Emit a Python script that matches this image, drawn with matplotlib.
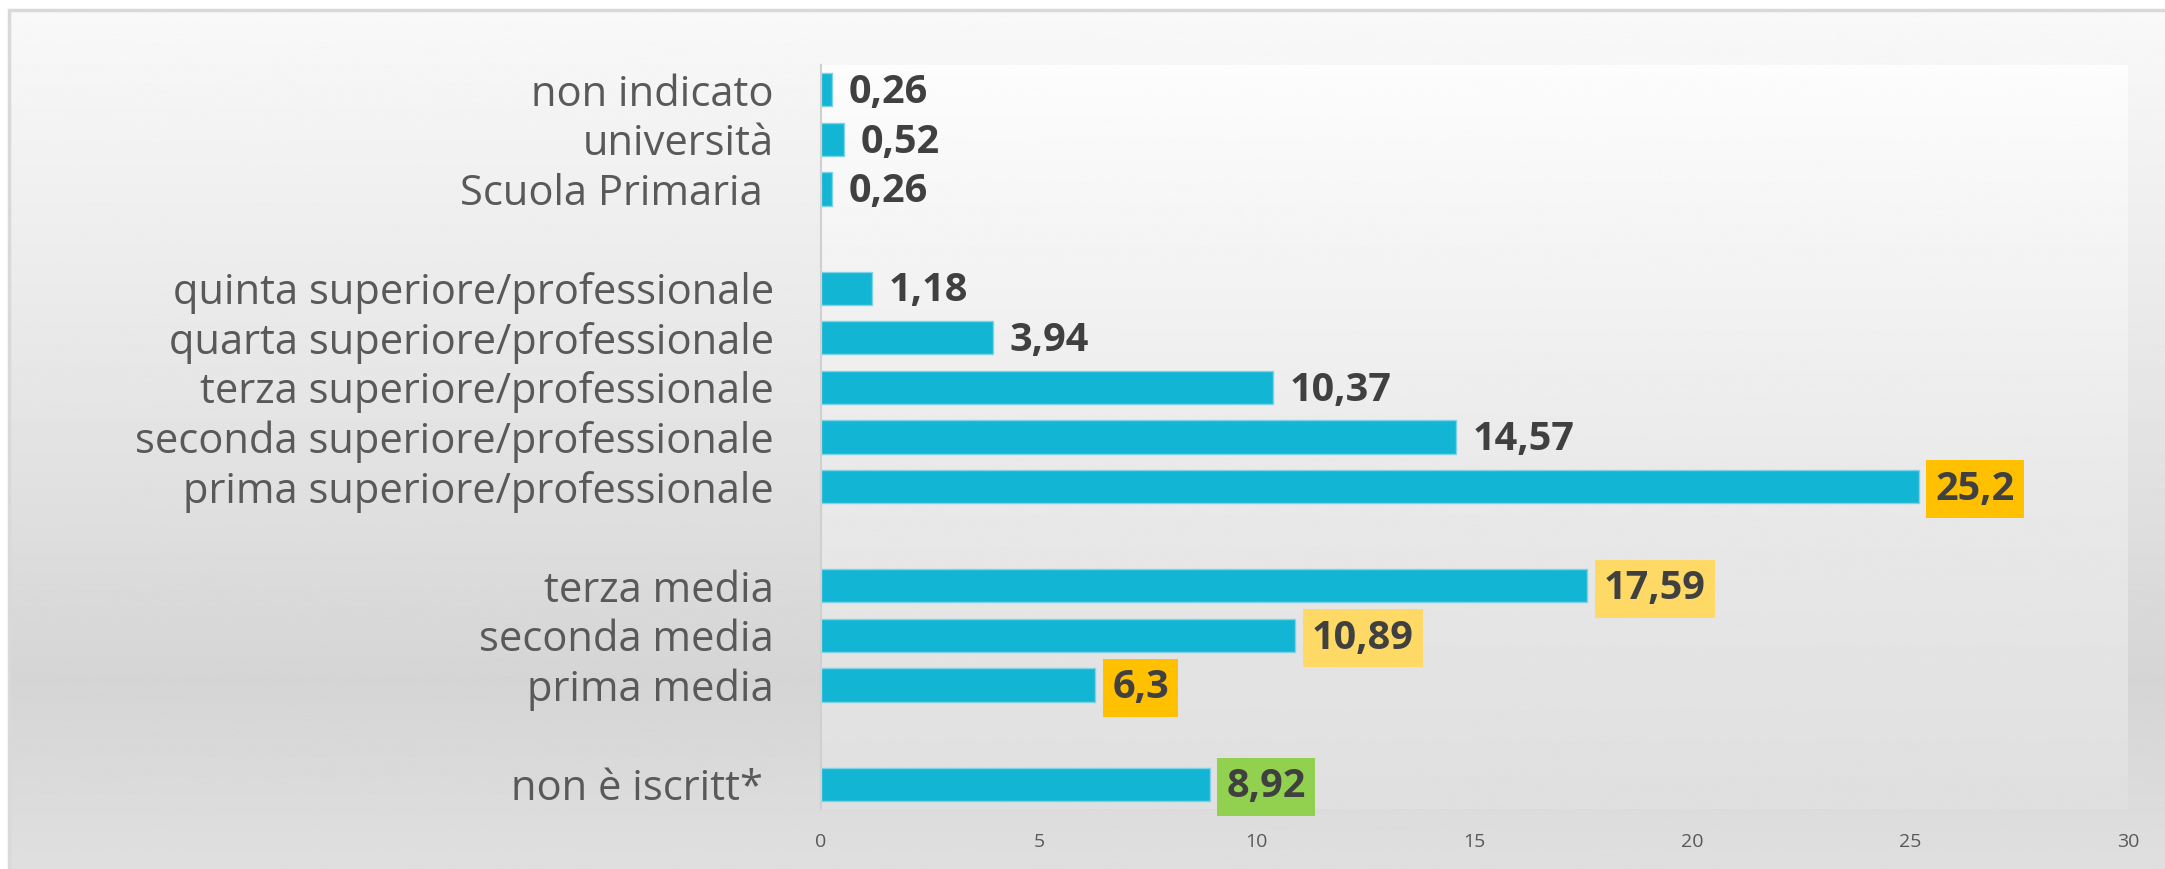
import numpy as np
import matplotlib
matplotlib.use("Agg")
import matplotlib.pyplot as plt
from matplotlib.patches import Rectangle

# slots from top to bottom, empty strings are the gaps between groups
categories = ["non indicato", "università", "Scuola Primaria ", "",
              "quinta superiore/professionale", "quarta superiore/professionale",
              "terza superiore/professionale", "seconda superiore/professionale",
              "prima superiore/professionale", "",
              "terza media", "seconda media", "prima media", "",
              "non è iscritt* "]
values = [0.26, 0.52, 0.26, np.nan,
          1.18, 3.94, 10.37, 14.57, 25.2, np.nan,
          17.59, 10.89, 6.3, np.nan,
          8.92]
highlight = {"prima superiore/professionale": "#FFC000",
             "terza media": "#FFD966",
             "seconda media": "#FFD966",
             "prima media": "#FFC000",
             "non è iscritt* ": "#92D050"}
xticks = [0, 5, 10, 15, 20, 25, 30]

W, H = 2165, 869
fig = plt.figure(figsize=(W / 100, H / 100), dpi=100)
fig.patch.set_facecolor("white")

# chart area gradient background
bg = fig.add_axes([9 / W, 0, 1 - 9 / W, (H - 10) / H], zorder=-10)
g = np.interp(np.linspace(0, 1, 400), [0, 0.45, 0.78, 1.0], [0.975, 0.90, 0.835, 0.875])
bg.imshow(g[:, None], cmap="gray", vmin=0, vmax=1, aspect="auto",
          extent=[0, 1, 0, 1], origin="upper")
bg.set_axis_off()
fig.patches.append(Rectangle((9, -5), W, H - 10 + 5, transform=None,
                             fill=False, ec="#D9D9D9", lw=2.5))

ax = fig.add_axes([821 / W, (H - 809) / H, (2128 - 821) / W, (809 - 65) / H])
ax.set_facecolor("none")
n = len(categories)
pos = np.arange(n)

# plot area gradient
pg = np.interp(np.linspace(0, 1, 400), [0, 0.55, 1.0], [0.99, 0.915, 0.875])
ax.imshow(pg[:, None], cmap="gray", vmin=0, vmax=1, aspect="auto",
          extent=[0, 30, n - 0.5, -0.5], origin="upper", zorder=0)

vals = np.array(values, dtype=float)
mask = ~np.isnan(vals)
ax.barh(pos[mask], vals[mask], height=0.67, color="#12B6D4",
        edgecolor="#7FD3E4", linewidth=1, zorder=2)

for p, v, c in zip(pos, vals, categories):
    if np.isnan(v):
        continue
    txt = f"{v:g}".replace(".", ",")
    box = None
    if c in highlight:
        box = dict(boxstyle="square,pad=0.24", fc=highlight[c], ec="none")
    ax.annotate(txt, xy=(v, p), xytext=(12, -2), textcoords="offset points",
                ha="left", va="center", fontsize=28.5, fontweight="bold",
                family="Open Sans", color="#404040", bbox=box, zorder=3)

ax.set_xlim(0, 30)
ax.set_ylim(n - 0.5, -0.5)
ax.set_yticks(pos)
ax.set_yticklabels(categories, fontsize=30, family="Open Sans", color="#595959")
ax.set_xticks(xticks)
ax.set_xticklabels([str(t) for t in xticks], fontsize=14, family="Open Sans",
                   color="#595959")
ax.tick_params(axis="y", length=0, pad=34)
ax.tick_params(axis="x", length=0, pad=17)
for s in ["top", "right", "bottom"]:
    ax.spines[s].set_visible(False)
ax.spines["left"].set_color("#D0D0D0")
ax.spines["left"].set_linewidth(1.5)

fig.savefig("out.png", dpi=100, facecolor=fig.get_facecolor())
